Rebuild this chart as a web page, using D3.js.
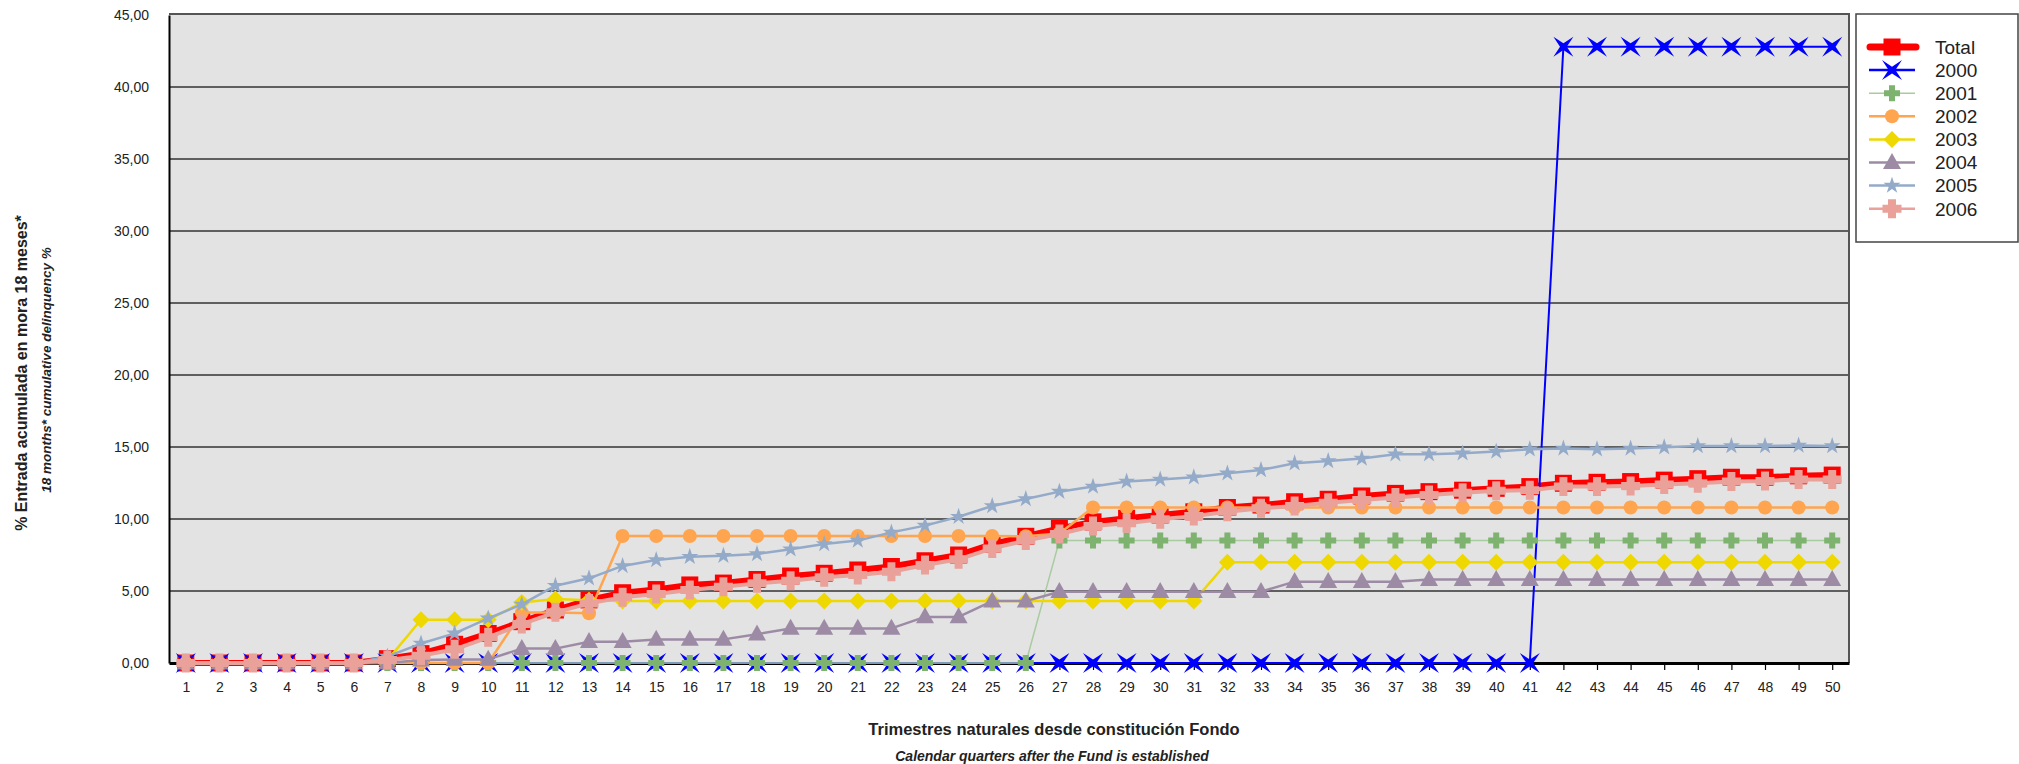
<!DOCTYPE html>
<html>
<head>
<meta charset="utf-8">
<script src="https://cdn.jsdelivr.net/npm/d3@7"></script>
<style>
  body { margin: 0; background: #fff; }
  text { font-family: "Liberation Sans", Arial, sans-serif; fill: #222; }
</style>
</head>
<body>
<div id="chart"></div>
<script>
// quarters after the fund is established
var quarters = d3.range(1, 51);

var seriesNames = ["Total", "2000", "2001", "2002", "2003", "2004", "2005", "2006"];

var total = [0,0,0,0,0,0,0.3,0.65,1.3,2.05,2.87,3.68,4.38,4.88,5.1,5.42,5.55,
  5.8,6.04,6.23,6.46,6.7,7.1,7.5,8.26,8.8,9.35,9.8,10.05,10.28,10.5,10.8,10.97,11.2,
  11.37,11.6,11.78,11.9,12.0,12.13,12.25,12.48,12.55,12.6,12.7,12.8,12.9,12.9,13.0,13.05];

var y2000 = [0,0,0,0,0,0,0,0,0,0,0,0,0,0,0,0,0,0,0,0,0,0,0,0,0,0,0,0,0,0,0,0,0,0,0,0,0,0,0,0,0,
  42.8,42.8,42.8,42.8,42.8,42.8,42.8,42.8,42.8];

var y2001 = [0,0,0,0,0,0,0,0,0,0,0,0,0,0,0,0,0,0,0,0,0,0,0,0,0,0,
  8.5,8.5,8.5,8.5,8.5,8.5,8.5,8.5,8.5,8.5,8.5,8.5,8.5,8.5,8.5,8.5,8.5,8.5,8.5,8.5,8.5,8.5,8.5,8.5];

var y2002 = [0,0,0,0,0,0,0,0,0,0,3.5,3.5,3.45,
  8.82,8.82,8.82,8.82,8.82,8.82,8.82,8.82,8.82,8.82,8.82,8.82,8.8,9.0,
  10.8,10.8,10.8,10.8,10.8,10.8,10.8,10.8,10.8,10.8,10.8,10.8,10.8,10.8,10.8,10.8,10.8,10.8,10.8,10.8,10.8,10.8,10.8];

var y2003 = [0,0,0,0,0,0,0.2,3.0,3.0,3.0,4.2,4.45,4.35,
  4.3,4.3,4.3,4.3,4.3,4.3,4.3,4.3,4.3,4.3,4.3,4.3,4.3,4.3,4.3,4.3,4.3,4.3,
  7.0,7.0,7.0,7.0,7.0,7.0,7.0,7.0,7.0,7.0,7.0,7.0,7.0,7.0,7.0,7.0,7.0,7.0,7.0];

var y2004 = [0,0,0,0,0,0,0,0.2,0.25,0.25,1.0,1.0,1.48,1.48,1.64,1.64,1.64,2.0,
  2.4,2.4,2.4,2.4,3.2,3.2,4.3,4.3,
  4.95,4.95,4.95,4.95,4.95,4.95,4.95,5.65,5.65,5.65,5.65,
  5.8,5.8,5.8,5.8,5.8,5.8,5.8,5.8,5.8,5.8,5.8,5.8,5.8];

var y2005 = [0,0,0,0,0,0,0.45,1.35,2.06,3.1,4.07,5.37,5.88,6.74,7.15,7.38,7.45,
  7.57,7.9,8.26,8.5,9.07,9.54,10.16,10.9,11.39,
  11.9,12.25,12.6,12.75,12.9,13.17,13.4,13.87,
  14.03,14.2,14.5,14.5,14.56,14.68,14.84,14.9,
  14.84,14.9,14.98,15.07,15.07,15.07,15.1,15.07];

var y2006 = [0,0,0,0,0,0,0.2,0.5,0.95,1.78,2.7,3.52,4.14,4.56,4.79,5.07,5.3,
  5.53,5.72,5.95,6.11,6.34,6.8,7.2,7.96,8.5,
  8.96,9.51,9.7,9.98,10.2,10.5,10.74,10.9,
  11.13,11.32,11.5,11.67,11.83,11.97,12.0,12.25,
  12.25,12.3,12.4,12.48,12.6,12.64,12.75,12.75];

var yTicks = [0, 5, 10, 15, 20, 25, 30, 35, 40, 45];

var seriesValues = [total, y2000, y2001, y2002, y2003, y2004, y2005, y2006];

// marker shapes (custom paths centred on 0,0)
function squarePath(s) {
  var h = s / 2;
  return "M" + -h + "," + -h + "H" + h + "V" + h + "H" + -h + "Z";
}
function plusPath(s, w) {
  var h = s / 2, a = w / 2;
  return "M" + -a + "," + -h + "H" + a + "V" + -a + "H" + h + "V" + a + "H" + a + "V" + h +
    "H" + -a + "V" + a + "H" + -h + "V" + -a + "H" + -a + "Z";
}
function xPath(s) {
  var h = s / 2, k = s * 0.17;
  return "M" + -h + "," + -h + "L0," + -k + "L" + h + "," + -h + "L" + k + ",0L" + h + "," + h +
    "L0," + k + "L" + -h + "," + h + "L" + -k + ",0Z";
}
function diamondPath(s) {
  var h = s / 2;
  return "M0," + -h + "L" + h + ",0L0," + h + "L" + -h + ",0Z";
}
function trianglePath(w, hgt) {
  return "M0," + (-hgt * 0.6) + "L" + (w / 2) + "," + (hgt * 0.4) + "L" + (-w / 2) + "," + (hgt * 0.4) + "Z";
}
function circlePath(r) {
  return "M" + -r + ",0A" + r + "," + r + " 0 1,0 " + r + ",0A" + r + "," + r + " 0 1,0 " + -r + ",0Z";
}
var starPath = d3.symbol().type(d3.symbolStar).size(90)();

var styles = [
  { color: "#ff0000", width: 6, marker: squarePath(17), mfill: "#ff0000" },
  { color: "#0000ff", width: 2, marker: xPath(20), mfill: "#0000ff" },
  { color: "#a9cba0", width: 1.5, marker: plusPath(16, 6), mfill: "#7db26f" },
  { color: "#ffa54f", width: 2.5, marker: circlePath(7), mfill: "#ffa54f" },
  { color: "#eed800", width: 2.5, marker: diamondPath(17), mfill: "#eed800" },
  { color: "#9d8ba6", width: 2.5, marker: trianglePath(18, 16), mfill: "#9d8ba6" },
  { color: "#94aac9", width: 2.5, marker: starPath, mfill: "#94aac9" },
  { color: "#e9a199", width: 4, marker: plusPath(19, 8), mfill: "#e9a199" }
];

var svgWidth = 2019, svgHeight = 764;
var plot = { left: 169, right: 1849, top: 15, bottom: 663 };

var svg = d3.select("#chart").append("svg")
  .attr("width", svgWidth)
  .attr("height", svgHeight);

var xScale = d3.scalePoint().domain(quarters).range([plot.left, plot.right]).padding(0.5);
var yScale = d3.scaleLinear().domain([0, 45]).range([plot.bottom, plot.top]);

var locale = d3.formatLocale({ decimal: ",", thousands: ".", grouping: [3], currency: ["", "€"] });
var fmt = locale.format(".2f");

// plot background
svg.append("rect")
  .attr("x", plot.left).attr("y", plot.top - 1)
  .attr("width", plot.right - plot.left).attr("height", plot.bottom - plot.top + 1)
  .attr("fill", "#e3e3e3");

// gridlines
svg.append("g").selectAll("line")
  .data(yTicks.filter(function(d) { return d > 0 && d < 45; }))
  .enter().append("line")
  .attr("x1", plot.left).attr("x2", plot.right)
  .attr("y1", function(d) { return yScale(d); })
  .attr("y2", function(d) { return yScale(d); })
  .attr("stroke", "#333").attr("stroke-width", 1.5);

// frame: top and right in gray
svg.append("path")
  .attr("d", "M" + plot.left + "," + (plot.top - 1) + "H" + plot.right + "V" + plot.bottom)
  .attr("fill", "none").attr("stroke", "#555").attr("stroke-width", 2);

// y axis
var leftAxis = d3.axisLeft(yScale).tickValues(yTicks).tickFormat(fmt).tickSize(0).tickPadding(20);
var yAxisG = svg.append("g").attr("transform", "translate(" + plot.left + ",0)").call(leftAxis);
yAxisG.select(".domain").attr("stroke", "#000").attr("stroke-width", 2);
yAxisG.selectAll("text").style("font-size", "14px").attr("fill", "#222");

// x axis
var bottomAxis = d3.axisBottom(xScale).tickSize(7).tickPadding(12).tickSizeOuter(0);
var xAxisG = svg.append("g").attr("transform", "translate(0," + plot.bottom + ")").call(bottomAxis);
xAxisG.select(".domain").attr("stroke", "#000").attr("stroke-width", 3);
xAxisG.selectAll(".tick line").attr("stroke", "#000").attr("stroke-width", 1.2);
xAxisG.selectAll("text").style("font-size", "14px").attr("fill", "#222");

// lines and markers, in legend order so later series sit on top
var line = d3.line()
  .x(function(d, i) { return xScale(quarters[i]); })
  .y(function(d) { return yScale(d); });

seriesValues.forEach(function(values, s) {
  var st = styles[s];
  var g = svg.append("g").attr("class", "series s" + s);
  g.append("path")
    .attr("d", line(values))
    .attr("fill", "none")
    .attr("stroke", st.color)
    .attr("stroke-width", st.width)
    .attr("stroke-linejoin", "round");
  g.selectAll("path.mk")
    .data(values)
    .enter().append("path")
    .attr("class", "mk")
    .attr("d", st.marker)
    .attr("transform", function(d, i) {
      return "translate(" + xScale(quarters[i]) + "," + yScale(d) + ")";
    })
    .attr("fill", st.mfill);
});

// legend
var legend = svg.append("g").attr("transform", "translate(1856,14)");
legend.append("rect")
  .attr("width", 162).attr("height", 228)
  .attr("fill", "#fff").attr("stroke", "#444").attr("stroke-width", 1.5);

var items = legend.selectAll("g.item")
  .data(seriesNames)
  .enter().append("g")
  .attr("class", "item")
  .attr("transform", function(d, i) { return "translate(0," + (33 + i * 23.1) + ")"; });

items.append("line")
  .attr("x1", function(d, i) { return i === 0 ? 14 : 13; })
  .attr("x2", function(d, i) { return i === 0 ? 60 : 59; })
  .attr("stroke", function(d, i) { return styles[i].color; })
  .attr("stroke-width", function(d, i) { return i === 0 ? 7 : (i === 2 ? 1.5 : 2.5); })
  .attr("stroke-linecap", function(d, i) { return i === 0 ? "round" : "butt"; });

items.append("path")
  .attr("d", function(d, i) { return styles[i].marker; })
  .attr("transform", "translate(36,0)")
  .attr("fill", function(d, i) { return styles[i].mfill; });

items.append("text")
  .attr("x", 79).attr("dy", "0.36em")
  .style("font-size", "19px")
  .attr("fill", "#111")
  .text(function(d) { return d; });

// axis titles
svg.append("text")
  .attr("x", 1054).attr("y", 735)
  .attr("text-anchor", "middle")
  .style("font-size", "16.5px").style("font-weight", "bold")
  .attr("fill", "#111")
  .text("Trimestres naturales desde constitución Fondo");

svg.append("text")
  .attr("x", 1052).attr("y", 761)
  .attr("text-anchor", "middle")
  .style("font-size", "14px").style("font-weight", "bold").style("font-style", "italic")
  .attr("fill", "#111")
  .text("Calendar quarters after the Fund is established");

svg.append("text")
  .attr("transform", "translate(27,373) rotate(-90)")
  .attr("text-anchor", "middle")
  .style("font-size", "16px").style("font-weight", "bold")
  .attr("fill", "#111")
  .text("% Entrada acumulada en mora 18 meses*");

svg.append("text")
  .attr("transform", "translate(51,370) rotate(-90)")
  .attr("text-anchor", "middle")
  .style("font-size", "13.5px").style("font-weight", "bold").style("font-style", "italic")
  .attr("fill", "#111")
  .text("18 months* cumulative delinquency %");
</script>
</body>
</html>
